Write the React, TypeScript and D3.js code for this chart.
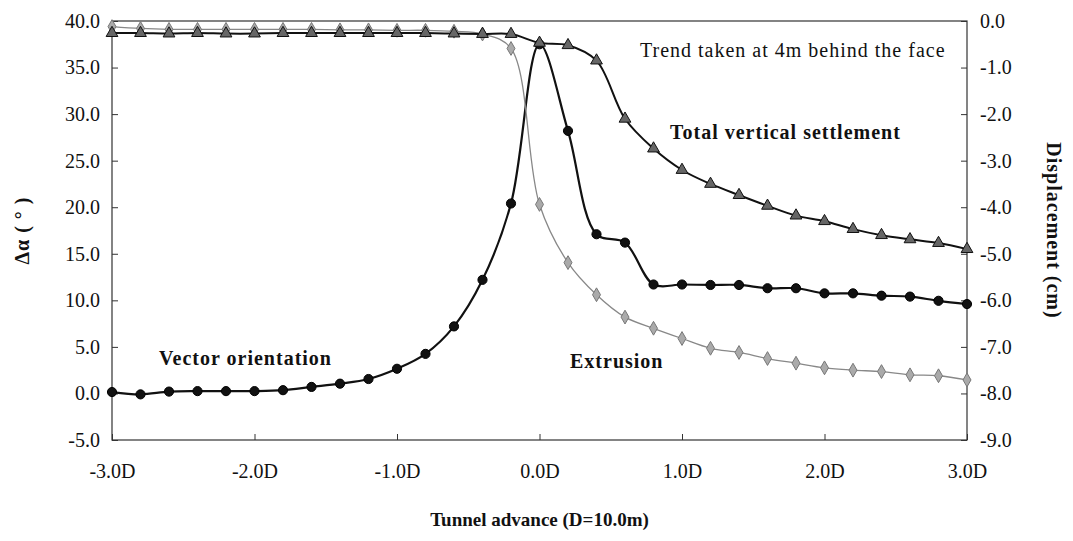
import React, { useRef, useEffect } from 'react';
import * as d3 from 'd3';

// tunnel advance, in diameters (D)
const advance = [
  -3.0, -2.8, -2.6, -2.4, -2.2, -2.0, -1.8, -1.6, -1.4, -1.2, -1.0, -0.8, -0.6, -0.4, -0.2,
  0.0, 0.2, 0.4, 0.6, 0.8, 1.0, 1.2, 1.4, 1.6, 1.8, 2.0, 2.2, 2.4, 2.6, 2.8, 3.0,
];

// Δα (°), left axis
const vectorOrientation = [
  0.15, -0.1, 0.2, 0.25, 0.25, 0.25, 0.35, 0.7, 1.05, 1.55, 2.65, 4.25, 7.2, 12.2, 20.4,
  37.5, 28.2, 17.1, 16.2, 11.7, 11.7, 11.65, 11.65, 11.3, 11.3, 10.75, 10.75, 10.5, 10.4, 9.95, 9.6,
];

// displacement (cm), right axis
const settlement = [
  -0.26, -0.26, -0.27, -0.26, -0.27, -0.27, -0.26, -0.26, -0.26, -0.26, -0.26, -0.26, -0.27, -0.28, -0.28,
  -0.47, -0.52, -0.85, -2.1, -2.74, -3.2, -3.5, -3.74, -3.97, -4.18, -4.3, -4.47, -4.6, -4.69, -4.77, -4.9,
];

const extrusion = [
  -0.12, -0.16, -0.18, -0.18, -0.18, -0.18, -0.18, -0.18, -0.19, -0.19, -0.2, -0.2, -0.22, -0.28, -0.59,
  -3.94, -5.19, -5.88, -6.36, -6.6, -6.82, -7.03, -7.12, -7.25, -7.35, -7.45, -7.5, -7.53, -7.6, -7.62, -7.71,
];

const leftTicks = [-5, 0, 5, 10, 15, 20, 25, 30, 35, 40];
const rightTicks = [-9, -8, -7, -6, -5, -4, -3, -2, -1, 0];
const xTicks = [-3, -2, -1, 0, 1, 2, 3];

type Svg = d3.Selection<SVGSVGElement, unknown, null, undefined>;

const width = 1073;
const height = 541;
const left = 112;
const right = 967;
const top = 21;
const bottom = 440;
const serif = '"Liberation Serif", "Times New Roman", serif';

const x = d3.scaleLinear().domain([-3, 3]).range([left, right]);
const yLeft = d3.scaleLinear().domain([-5, 40]).range([bottom, top]);
const yRight = d3.scaleLinear().domain([-9, 0]).range([bottom, top]);

// plain hyphen instead of d3's unicode minus, like the original
const fmt = (d: number) => d3.format('.1f')(d).replace('−', '-');

const styleAxis = (g: d3.Selection<SVGGElement, unknown, null, undefined>) => {
  g.select('.domain').remove();
  g.selectAll('line').attr('stroke', '#333');
  g.selectAll('text')
    .attr('fill', '#111')
    .style('font-family', serif)
    .style('font-size', '20px');
};

const addAxes = (svg: Svg) => {
  svg.append('rect')
    .attr('x', left).attr('y', top)
    .attr('width', right - left).attr('height', bottom - top)
    .attr('fill', 'none').attr('stroke', '#333').attr('stroke-width', 1.2);

  svg.append('g')
    .attr('transform', `translate(${left},0)`)
    .call(d3.axisLeft(yLeft).tickValues(leftTicks).tickSizeInner(-6).tickSizeOuter(0).tickPadding(12)
      .tickFormat((d) => fmt(d as number)))
    .call(styleAxis);

  svg.append('g')
    .attr('transform', `translate(${right},0)`)
    .call(d3.axisRight(yRight).tickValues(rightTicks).tickSizeInner(-6).tickSizeOuter(0).tickPadding(13)
      .tickFormat((d) => fmt(d as number)))
    .call(styleAxis);

  svg.append('g')
    .attr('transform', `translate(0,${bottom})`)
    .call(d3.axisBottom(x).tickValues(xTicks).tickSizeInner(-6).tickSizeOuter(0).tickPadding(24)
      .tickFormat((d) => `${fmt(d as number)}D`))
    .call(styleAxis);
};

const addSeries = (
  svg: Svg,
  values: number[],
  y: d3.ScaleLinear<number, number>,
  line: { color: string; width: number },
  symbol: d3.SymbolType,
  size: number,
  fill: string,
  stroke: string,
) => {
  const pts: [number, number][] = advance.map((a, i) => [x(a), y(values[i])]);
  const path = d3.line().curve(d3.curveCatmullRom.alpha(0.5));
  svg.append('path')
    .attr('d', path(pts))
    .attr('fill', 'none')
    .attr('stroke', line.color)
    .attr('stroke-width', line.width);

  svg.append('g').selectAll('path')
    .data(pts)
    .enter().append('path')
    .attr('transform', (d) => `translate(${d[0]},${d[1]})`)
    .attr('d', d3.symbol().type(symbol).size(size)())
    .attr('fill', fill)
    .attr('stroke', stroke)
    .attr('stroke-width', 1);
};

const addLabels = (svg: Svg) => {
  const label = (tx: number, ty: number, text: string, bold: boolean, size = 20, spacing = 1) =>
    svg.append('text')
      .attr('x', tx).attr('y', ty)
      .text(text)
      .attr('fill', '#111')
      .style('font-family', serif)
      .style('font-size', `${size}px`)
      .style('font-weight', bold ? 'bold' : 'normal')
      .style('letter-spacing', `${spacing}px`);

  label(640, 57, 'Trend taken at 4m behind the face', false);
  label(670, 139, 'Total vertical settlement', true);
  label(159, 365, 'Vector orientation', true);
  label(570, 368, 'Extrusion', true);

  label((left + right) / 2, 526, 'Tunnel advance (D=10.0m)', true, 19, 0)
    .attr('text-anchor', 'middle');

  label(0, 0, 'Δα ( ° )', true, 20, 1)
    .attr('text-anchor', 'middle')
    .attr('transform', `translate(29,${(top + bottom) / 2}) rotate(-90)`);

  label(0, 0, 'Displacement (cm)', true, 20, 1)
    .attr('text-anchor', 'middle')
    .attr('transform', `translate(1047,${(top + bottom) / 2}) rotate(90)`);
};

const App: React.FC = () => {
  const svgRef = useRef<SVGSVGElement | null>(null);

  useEffect(() => {
    if (!svgRef.current) return;
    const svg = d3.select<SVGSVGElement, unknown>(svgRef.current);
    svg.selectAll('*').remove();

    svg.append('rect').attr('width', width).attr('height', height).attr('fill', '#fff');

    addAxes(svg);
    addSeries(svg, vectorOrientation, yLeft, { color: '#111', width: 2.2 }, d3.symbolCircle, 66, '#111', '#000');
    addSeries(svg, extrusion, yRight, { color: '#888', width: 1.3 }, d3.symbolDiamond, 55, '#aaa', '#777');
    addSeries(svg, settlement, yRight, { color: '#111', width: 2 }, d3.symbolTriangle, 60, '#666', '#111');
    addLabels(svg);
  }, []);

  return (
    <svg
      ref={svgRef}
      width={width}
      height={height}
      style={{ position: 'absolute', left: 0, top: 0 }}
    />
  );
};

export default App;
